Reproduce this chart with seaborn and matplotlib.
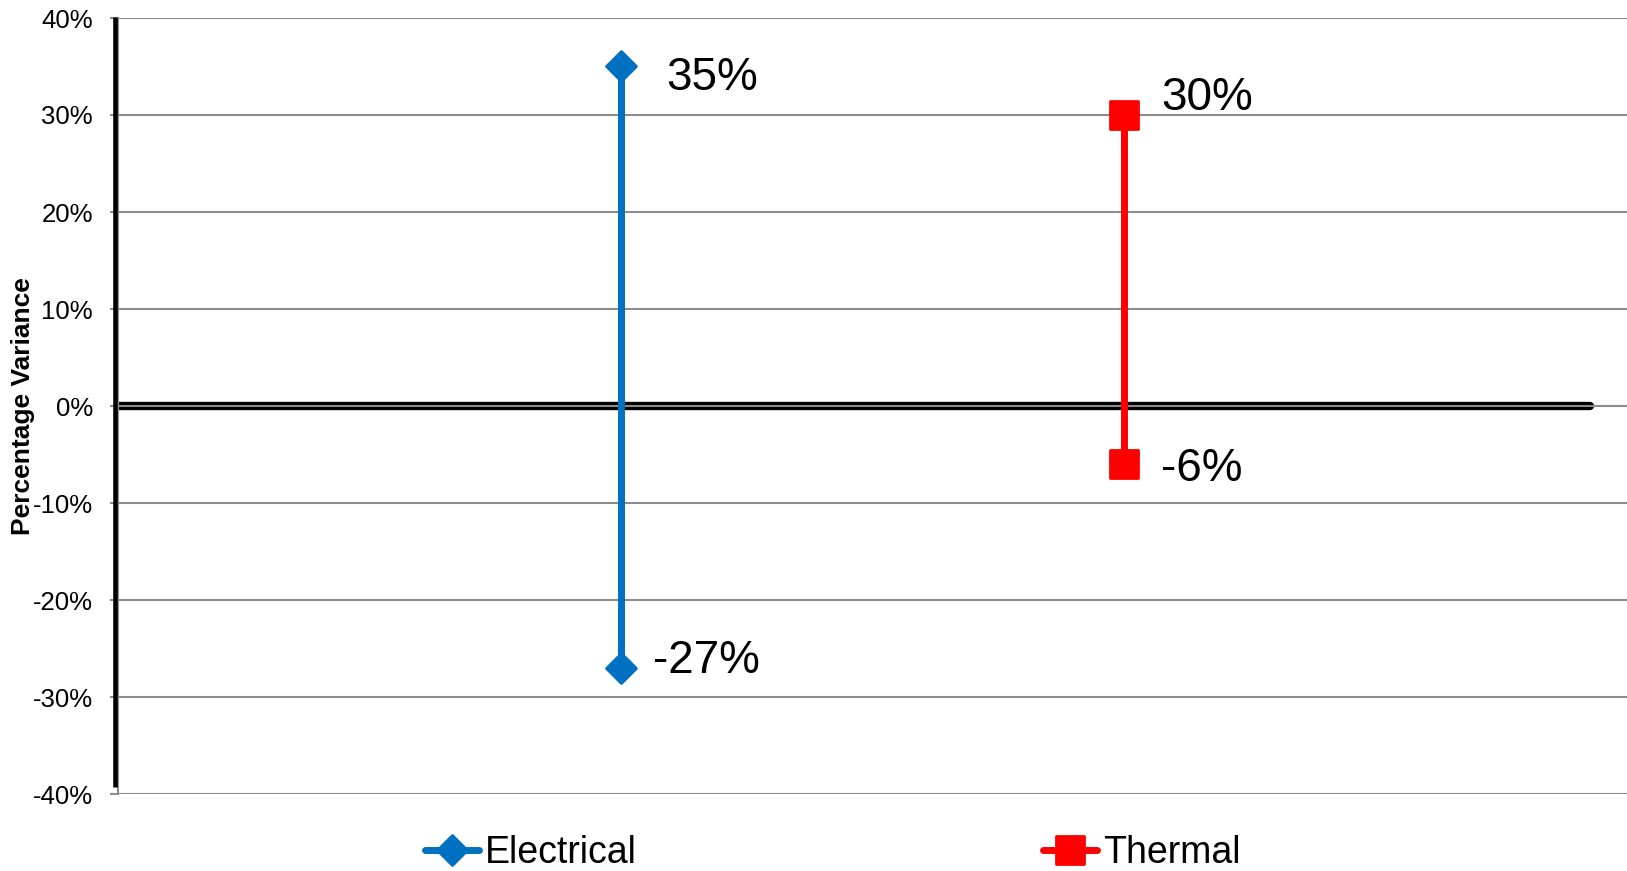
import pandas as pd
import matplotlib
matplotlib.use("Agg")
import matplotlib.pyplot as plt
from matplotlib.lines import Line2D
from matplotlib.markers import MarkerStyle
from matplotlib.ticker import FuncFormatter
import seaborn as sns

# Range of percentage variance per category
categories = ["Electrical", "Thermal"]
highs = [35, 30]
lows = [-27, -6]
yticks = [-40, -30, -20, -10, 0, 10, 20, 30, 40]

colors = {"Electrical": "#0070C0", "Thermal": "#FF0000"}
markers = {"Electrical": "D", "Thermal": "s"}
marker_sizes = {"Electrical": 15, "Thermal": 20}

sns.set_theme(style="white")
plt.rcParams["font.family"] = ["Liberation Sans", "DejaVu Sans"]
plt.rcParams["axes.unicode_minus"] = False
plt.rcParams["text.color"] = "black"

W, H = 1627, 871
fig = plt.figure(figsize=(W / 100, H / 100), dpi=100)
ax = fig.add_axes([118 / W, 1 - 794 / H, 1 - 118 / W, (794 - 18) / H])

rows = []
for i, (cat, hi, lo) in enumerate(zip(categories, highs, lows)):
    rows.append({"series": cat, "pos": i + 1, "value": hi})
    rows.append({"series": cat, "pos": i + 1, "value": lo})
df = pd.DataFrame(rows)

sns.lineplot(data=df, x="pos", y="value", hue="series", style="series",
             palette=colors, markers=markers, dashes=False, estimator=None,
             sort=False, linewidth=5, markersize=16, ax=ax, legend=False,
             zorder=3)

for line, cat in zip(ax.lines, categories):
    line.set_marker(MarkerStyle(markers[cat], joinstyle="round"))
    line.set_markersize(marker_sizes[cat])
    line.set_markeredgecolor(colors[cat])
    line.set_markerfacecolor(colors[cat])
    line.set_markeredgewidth(2)

# Data labels beside each end point (offsets in pixels, baseline aligned)
label_offsets = {
    ("Electrical", "high"): (45, -24),
    ("Electrical", "low"): (32, -5),
    ("Thermal", "high"): (37, 5),
    ("Thermal", "low"): (37, -17),
}
for i, (cat, hi, lo) in enumerate(zip(categories, highs, lows)):
    for kind, v in (("high", hi), ("low", lo)):
        ax.annotate(f"{v:.0f}%", xy=(i + 1, v),
                    xytext=label_offsets[(cat, kind)],
                    textcoords="offset pixels", ha="left", va="baseline",
                    fontsize=33, color="black", zorder=5)

ax.set_xlim(0, 3)
ax.set_ylim(-40, 40)
ax.set_xticks([])
ax.set_xlabel("")
ax.set_yticks(yticks)
ax.yaxis.set_major_formatter(FuncFormatter(lambda v, p: f"{v:.0f}%"))
ax.tick_params(axis="y", left=True, length=6, width=1.5, color="#8c8c8c",
               labelsize=18.5, pad=12, labelcolor="black")

ax.set_axisbelow(True)
ax.grid(axis="y", color="#8c8c8c", linewidth=1.5)
ax.grid(axis="x", visible=False)

for side in ("top", "right", "bottom"):
    ax.spines[side].set_visible(False)
ax.spines["left"].set_color("#8c8c8c")
ax.spines["left"].set_linewidth(1.5)

# Heavy zero line and heavy vertical axis bar
ax.axhline(0, xmin=0, xmax=(1590 - 118) / 1509, color="black",
           linewidth=6, zorder=0.3)
fig.add_artist(Line2D([115.2 / W, 115.2 / W], [1 - 17 / H, 1 - 787 / H],
                      transform=fig.transFigure, color="black",
                      linewidth=3.3, solid_capstyle="butt"))

ax.set_ylabel("Percentage Variance", fontsize=19, fontweight="bold",
              color="black")
ax.yaxis.set_label_coords(-0.055, 0.5)

# Legend entries spread below the plot
legend_x = {"Electrical": 425, "Thermal": 1043}
for cat in categories:
    handle = Line2D([0], [0], color=colors[cat], linewidth=5,
                    marker=MarkerStyle(markers[cat], joinstyle="round"),
                    markersize=marker_sizes[cat], markeredgewidth=2,
                    markeredgecolor=colors[cat], markerfacecolor=colors[cat])
    fig.legend(handles=[handle], labels=[cat], loc="center left",
               bbox_to_anchor=(legend_x[cat] / W, 1 - 853 / H),
               frameon=False, fontsize=27, handlelength=1.44,
               handletextpad=0.16, borderpad=0, borderaxespad=0,
               numpoints=1, labelcolor="black")

fig.savefig("out.png", dpi=100)
